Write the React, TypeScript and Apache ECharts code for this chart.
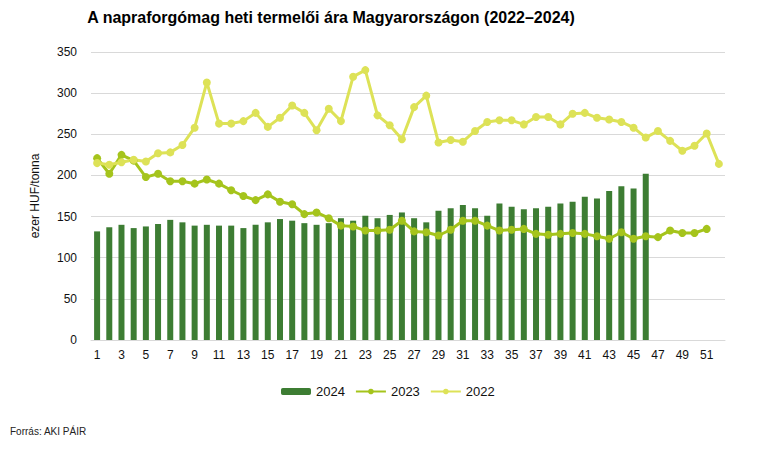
import React, { useEffect, useRef } from "react";
import * as echarts from "echarts";

const weeks: string[] = Array.from({ length: 52 }, (_, i) => String(i + 1));

const prices2024: (number | null)[] = [
  132, 137, 140, 136, 138, 141, 146, 143, 139, 140,
  139, 139, 136, 140, 143, 147, 145, 142, 140, 142,
  148, 145, 151, 148, 152, 155, 148, 143, 157, 160,
  164, 160, 151, 166, 162, 159, 160, 162, 166, 168,
  174, 172, 181, 187, 184, 202,
];

const prices2023: (number | null)[] = [
  221, 202, 225, 218, 198, 202, 193, 193, 190, 195,
  190, 182, 175, 170, 177, 168, 165, 153, 155, 148,
  139, 138, 133, 133, 134, 145, 132, 131, 127, 134,
  145, 145, 139, 133, 134, 135, 129, 128, 129, 130,
  129, 126, 123, 131, 123, 126, 125, 133, 130, 130,
  135,
];

const prices2022: (number | null)[] = [
  215, 213, 216, 219, 217, 227, 228, 237, 258, 313,
  263, 263, 266, 276, 259, 270, 285, 276, 255, 281,
  266, 320, 328, 273, 261, 244, 283, 297, 240, 243,
  241, 254, 265, 267, 267, 262, 271, 271, 262, 275,
  276, 270, 268, 265, 258, 246, 254, 242, 230, 236,
  251, 214,
];

const TITLE = "A napraforgómag heti termelői ára Magyarországon (2022–2024)";
const SOURCE = "Forrás: AKI PÁIR";

export default function App() {
  const ref = useRef<HTMLDivElement>(null);
  useEffect(() => {
    if (!ref.current) return;
    const chart = echarts.init(ref.current, undefined, { renderer: "svg" });
    const font = "Liberation Sans, Arial, sans-serif";
    chart.setOption({
      animation: false,
      textStyle: { fontFamily: font },
      grid: { left: 91, right: 33, top: 52, bottom: 110, containLabel: false },
      graphic: [
        {
          type: "text",
          x: 331,
          y: 17,
          style: {
            text: TITLE,
            font: `bold 16px ${font}`,
            fill: "#000",
            textAlign: "center",
            textVerticalAlign: "middle",
          },
        },
        {
          type: "text",
          x: 10,
          y: 431,
          style: {
            text: SOURCE,
            font: `10px ${font}`,
            fill: "#222",
            textAlign: "left",
            textVerticalAlign: "middle",
          },
        },
      ],
      legend: {
        left: 276,
        top: 380,
        itemWidth: 30,
        itemHeight: 7,
        itemGap: 10,
        textStyle: { fontSize: 13, color: "#111", fontFamily: font },
        data: ["2024", "2023", "2022"],
      },
      xAxis: {
        type: "category",
        data: weeks,
        boundaryGap: true,
        axisLine: { lineStyle: { color: "#d9d9d9", width: 1 } },
        axisTick: { show: false },
        axisLabel: { interval: 1, fontSize: 12, color: "#111", margin: 9, fontFamily: font },
      },
      yAxis: {
        type: "value",
        min: 0,
        max: 350,
        interval: 50,
        name: "ezer HUF/tonna",
        nameLocation: "middle",
        nameGap: 50,
        nameTextStyle: { fontSize: 12, color: "#111", fontFamily: font },
        axisLine: { show: false },
        axisTick: { show: false },
        axisLabel: { fontSize: 12, color: "#111", margin: 14, fontFamily: font },
        splitLine: { lineStyle: { color: "#d9d9d9", width: 1 } },
      },
      series: [
        {
          name: "2024",
          type: "bar",
          data: prices2024,
          barWidth: 6,
          itemStyle: { color: "#3d7d33" },
        },
        {
          name: "2023",
          type: "line",
          data: prices2023,
          symbol: "circle",
          symbolSize: 8,
          lineStyle: { color: "#a5c41c", width: 3 },
          itemStyle: { color: "#a5c41c" },
        },
        {
          name: "2022",
          type: "line",
          data: prices2022,
          symbol: "circle",
          symbolSize: 8,
          lineStyle: { color: "#dde257", width: 3 },
          itemStyle: { color: "#dde257" },
        },
      ],
    });
    return () => chart.dispose();
  }, []);
  return (
    <div
      ref={ref}
      style={{ position: "fixed", left: 0, top: 0, width: 758, height: 450, background: "#fff" }}
    />
  );
}
